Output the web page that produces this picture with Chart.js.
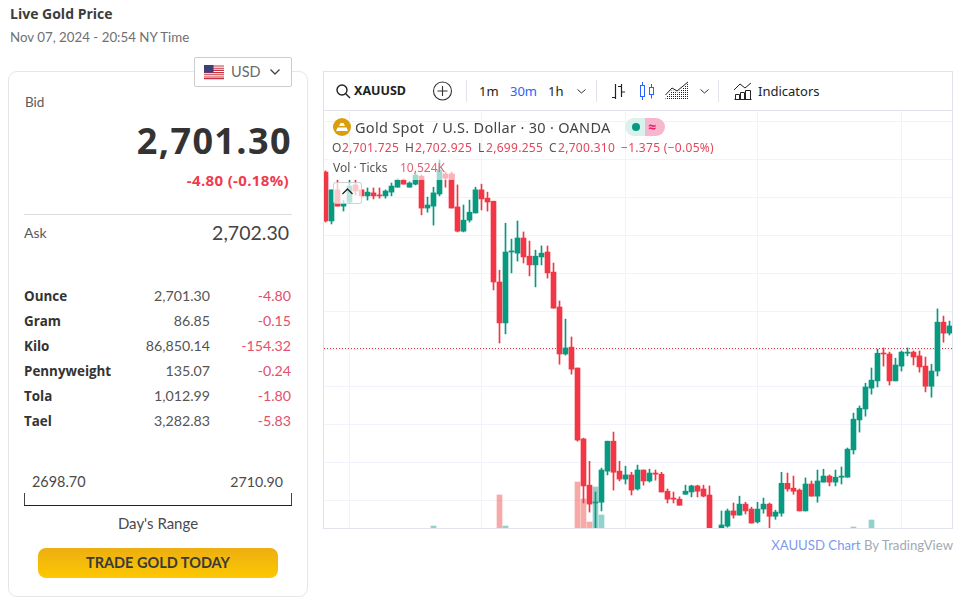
<!DOCTYPE html>
<html>
<head>
<meta charset="utf-8">
<title>Live Gold Price</title>
<script src="https://cdn.jsdelivr.net/npm/chart.js@4"></script>
<style>
html, body { margin: 0; padding: 0; background: #fff; width: 964px; height: 597px; overflow: hidden; }
body { position: relative; font-family: Lato, "Open Sans", sans-serif; color: #3a3a3a; }
.t { position: absolute; line-height: 20px; white-space: nowrap; }
.r { text-align: right; }
.b { font-family: "Open Sans", sans-serif; font-weight: 700; }
.panel { position: absolute; left: 8px; top: 71px; width: 298px; height: 524px; border: 1px solid #e6e6e6; border-radius: 9px; }
.hr { position: absolute; left: 24px; top: 214px; width: 268px; height: 1px; background: #ddd; }
.usd { position: absolute; left: 194px; top: 57px; width: 96px; height: 28px; background: #fff; border: 1px solid #ccc; border-radius: 2px; }
.btn { position: absolute; left: 38px; top: 548px; width: 240px; height: 30px; line-height: 30px; text-align: center; font-weight: 700; font-size: 14.5px; color: #3a3a3a; border-radius: 8px; background: linear-gradient(#edae12, #fdc800); }
.rangeLine { position: absolute; left: 24px; top: 505px; width: 268px; height: 1px; background: #222; }
.rangeTick { position: absolute; top: 493px; width: 1px; height: 12px; background: #444; }
.widget { position: absolute; left: 323px; top: 71px; width: 628px; height: 456px; border: 1px solid #e0e3eb; }
.toolbarLine { position: absolute; left: 324px; top: 110px; width: 628px; height: 1px; background: #e0e3eb; }
.sep { position: absolute; top: 80px; width: 1px; height: 22px; background: #e0e3eb; }
#chartBox { position: absolute; left: 324px; top: 111px; width: 628px; height: 417px; }
.tv { font-family: "Noto Sans", "Open Sans", sans-serif; }
.volBg { position: absolute; left: 329px; top: 158px; width: 125px; height: 22px; background: rgba(255,255,255,.62); }
.collapse { position: absolute; left: 333px; top: 182px; width: 27px; height: 20px; background: rgba(255,255,255,.72); border: 1px solid rgba(190,190,190,.7); border-radius: 3px; }
.pillL { position: absolute; left: 625px; top: 118px; width: 20px; height: 18px; background: #d9f2ee; border-radius: 9px 0 0 9px; }
.pillR { position: absolute; left: 645px; top: 118px; width: 20px; height: 18px; background: #f6b6cd; border-radius: 0 9px 9px 0; }
svg { position: absolute; overflow: visible; }
</style>
</head>
<body>

<div class="t b" style="left:10px;top:4px;font-size:14px;color:#3c3c3c">Live Gold Price</div>
<div class="t" style="left:10px;top:27px;font-size:13.3px;color:#707070">Nov 07, 2024 - 20:54 NY Time</div>

<div class="panel"></div>
<div class="usd"></div>
<svg style="left:204px;top:65px" width="20" height="14" viewBox="0 0 20 14">
  <rect width="20" height="14" fill="#fff"/>
  <path d="M0 1h20M0 3.2h20M0 5.4h20M0 7.6h20M0 9.8h20M0 12h20M0 13.6h20" stroke="#c8323f" stroke-width="1.1"/>
  <rect width="9.5" height="7.6" fill="#3c3f78"/>
</svg>
<div class="t" style="left:231px;top:62px;font-size:14.5px;color:#6a6a6a">USD</div>
<svg style="left:270px;top:69px" width="10" height="6"><path d="M0.5 0.5L5 5L9.5 0.5" fill="none" stroke="#444" stroke-width="1.3"/></svg>

<div class="t" style="left:25px;top:92px;font-size:13.5px;color:#5a5a5a">Bid</div>
<div class="t r b" style="right:672px;top:131px;font-size:36px;letter-spacing:1.4px;color:#333">2,701.30</div>
<div class="t r b" style="right:675px;top:170px;font-size:15px;letter-spacing:.35px;color:#ef3b50">-4.80 (-0.18%)</div>
<div class="hr"></div>
<div class="t" style="left:24px;top:223px;font-size:14px;color:#5a5a5a">Ask</div>
<div class="t r" style="right:675px;top:223px;font-size:19.5px;color:#444">2,702.30</div>

<div id="priceRows"></div>

<div class="t" style="left:32px;top:472px;font-size:14.4px;color:#4a4a4a">2698.70</div>
<div class="t r" style="right:681px;top:472px;font-size:14.2px;color:#4a4a4a">2710.90</div>
<div class="rangeTick" style="left:24px"></div>
<div class="rangeTick" style="left:291px"></div>
<div class="rangeLine"></div>
<div class="t" style="left:24px;width:268px;text-align:center;top:513px;font-size:15px;color:#4a4a4a">Day's Range</div>
<div class="btn">TRADE GOLD TODAY</div>

<div class="widget"></div>
<div class="toolbarLine"></div>
<div id="chartBox"><canvas id="goldChart" width="628" height="417"></canvas></div>

<!-- toolbar -->
<svg style="left:336px;top:84px" width="16" height="16"><circle cx="6" cy="6" r="5" fill="none" stroke="#222" stroke-width="1.4"/><path d="M9.7 9.7L14 14" stroke="#222" stroke-width="1.4"/></svg>
<div class="t tv" style="left:354px;top:81px;font-size:12.5px;font-weight:700;color:#222">XAUUSD</div>
<svg style="left:433px;top:81px" width="20" height="20"><circle cx="9.5" cy="10" r="9" fill="none" stroke="#333" stroke-width="1.1"/><path d="M9.5 5v10M4.5 10h10" stroke="#333" stroke-width="1.1"/></svg>
<div class="sep" style="left:466px"></div>
<div class="t tv" style="left:479px;top:81px;font-size:13px;color:#222">1m</div>
<div class="t tv" style="left:510px;top:81px;font-size:13px;color:#2962ff">30m</div>
<div class="t tv" style="left:548px;top:81px;font-size:13px;color:#222">1h</div>
<svg style="left:577px;top:89px" width="9" height="5"><path d="M0.5 0.5L4.5 4L8.5 0.5" fill="none" stroke="#333" stroke-width="1"/></svg>
<div class="sep" style="left:596px"></div>
<svg style="left:610px;top:83px" width="16" height="17"><path d="M5.5 1v15M2 14.5h3.5M11.5 1v13M11.5 9h3.5M8 3.5h3.5" fill="none" stroke="#222" stroke-width="1.2"/></svg>
<svg style="left:640px;top:82px" width="15" height="18"><rect x="0.5" y="3.5" width="4" height="11" fill="none" stroke="#2962ff"/><path d="M2.5 0v3.5M2.5 14.5v3.5" stroke="#2962ff"/><rect x="9.5" y="5.5" width="4" height="7" fill="none" stroke="#2962ff"/><path d="M11.5 2v3.5M11.5 12.5v4" stroke="#2962ff"/></svg>
<svg style="left:665px;top:82px" width="24" height="18"><defs><pattern id="dots" width="2" height="2" patternUnits="userSpaceOnUse"><rect width="1" height="1" fill="#222"/></pattern></defs><path d="M0.5 16L7 8L12 11L23 1V17H0.5Z" fill="url(#dots)" stroke="none"/><path d="M0.5 13L7 6L12 9L23 0" fill="none" stroke="#222" stroke-width="1"/></svg>
<svg style="left:700px;top:89px" width="9" height="5"><path d="M0.5 0.5L4.5 4L8.5 0.5" fill="none" stroke="#333" stroke-width="1"/></svg>
<div class="sep" style="left:718px"></div>
<svg style="left:734px;top:82px" width="18" height="18"><path d="M0 8L6 2L11 6L17 1" fill="none" stroke="#222"/><path d="M0.5 17.5h17M1.5 17.5v-5h4v5M6.5 17.5v-7h4v7M11.5 17.5v-9h5v9" fill="none" stroke="#222"/></svg>
<div class="t tv" style="left:758px;top:81px;font-size:13px;color:#222">Indicators</div>

<!-- pane legend -->
<svg style="left:333px;top:118px" width="18" height="18"><circle cx="9" cy="9" r="9" fill="#d99e0c"/><path d="M6 8l1.5-3h3L12 8zM3 13l1.5-3.5h9L15 13z" fill="#fff"/></svg>
<div class="t tv" style="left:355px;top:117px;font-size:14.5px;letter-spacing:.3px;color:#444">Gold Spot&nbsp; / U.S. Dollar · 30 · OANDA</div>
<div class="pillL"></div>
<div class="pillR"></div>
<svg style="left:631px;top:122px" width="10" height="10"><circle cx="5" cy="5" r="4" fill="#089981"/></svg>
<div class="t tv" style="left:648px;top:117px;font-size:14px;font-weight:700;color:#e91e63">≈</div>
<div class="t tv" style="left:332px;top:138px;font-size:12px;color:#555">O</div>
<div class="t tv" style="left:342px;top:138px;font-size:12px;letter-spacing:.3px;color:#e4455a">2,701.725</div>
<div class="t tv" style="left:405px;top:138px;font-size:12px;color:#555">H</div>
<div class="t tv" style="left:415px;top:138px;font-size:12px;letter-spacing:.3px;color:#e4455a">2,702.925</div>
<div class="t tv" style="left:478px;top:138px;font-size:12px;color:#555">L</div>
<div class="t tv" style="left:486px;top:138px;font-size:12px;letter-spacing:.3px;color:#e4455a">2,699.255</div>
<div class="t tv" style="left:549px;top:138px;font-size:12px;color:#555">C</div>
<div class="t tv" style="left:558px;top:138px;font-size:12px;letter-spacing:.3px;color:#e4455a">2,700.310</div>
<div class="t tv" style="left:621px;top:138px;font-size:12px;letter-spacing:.3px;color:#e4455a">−1.375 (−0.05%)</div>

<div class="volBg"></div>
<div class="t tv" style="left:333px;top:158px;font-size:12px;color:#555">Vol · Ticks</div>
<div class="t tv" style="left:400px;top:158px;font-size:12px;color:#e4606f">10,524K</div>
<div class="collapse"></div>
<svg style="left:342px;top:188px" width="11" height="7"><path d="M0.5 6L5.5 1L10.5 6" fill="none" stroke="#222" stroke-width="1.3"/></svg>

<div class="t r" style="right:11px;top:535px;font-size:13.2px;color:#a3a9b3"><span style="color:#7d9bf0">XAUUSD Chart</span> By TradingView</div>

<script>
// price table on the left
const units = ["Ounce", "Gram", "Kilo", "Pennyweight", "Tola", "Tael"];
const unitPrices = ["2,701.30", "86.85", "86,850.14", "135.07", "1,012.99", "3,282.83"];
const unitChanges = ["-4.80", "-0.15", "-154.32", "-0.24", "-1.80", "-5.83"];

// 30 minute candles, one entry per bar
const opens = [
  2746.7, 2733.8, 2742.0, 2737.7, 2738.8, 2743.3, 2742.0, 2740.4, 2741.2, 2740.6,
  2740.4, 2741.4, 2742.7, 2744.6, 2742.7, 2743.5, 2745.6, 2737.2, 2737.7, 2740.9,
  2746.2, 2746.2, 2737.5, 2731.1, 2734.0, 2735.9, 2742.0, 2739.8, 2739.0, 2717.7,
  2706.9, 2725.6, 2725.3, 2729.3, 2724.5, 2722.2, 2724.3, 2725.6, 2720.3, 2711.1,
  2698.7, 2700.5, 2695.0, 2676.3, 2664.1, 2659.4, 2659.6, 2667.8, 2675.7, 2667.8,
  2665.7, 2666.8, 2663.1, 2668.1, 2665.2, 2667.3, 2667.0, 2662.5, 2660.7, 2660.4,
  2661.7, 2662.3, 2663.9, 2663.1, 2661.5, 2648.3, 2650.9, 2653.3, 2657.3, 2656.2,
  2659.1, 2657.8, 2654.4, 2657.8, 2659.1, 2655.9, 2656.7, 2664.6, 2663.3, 2662.8,
  2657.3, 2664.4, 2661.2, 2664.9, 2666.5, 2664.9, 2666.2, 2666.2, 2673.4, 2681.3,
  2684.2, 2689.7, 2691.6, 2698.9, 2698.7, 2691.6, 2695.5, 2698.9, 2699.2, 2698.2,
  2695.5, 2690.2, 2694.2, 2707.1, 2704.2
];
const highs = [
  2747.0, 2742.0, 2744.6, 2739.3, 2744.6, 2744.6, 2742.0, 2742.5, 2742.5, 2742.5,
  2742.0, 2743.8, 2744.9, 2744.9, 2744.1, 2746.4, 2745.9, 2740.1, 2742.7, 2749.9,
  2746.7, 2746.7, 2743.3, 2738.0, 2739.3, 2742.7, 2743.5, 2741.4, 2739.0, 2720.8,
  2733.2, 2729.0, 2733.8, 2730.9, 2728.5, 2726.1, 2727.2, 2727.2, 2722.7, 2712.7,
  2707.9, 2703.2, 2695.0, 2676.5, 2670.4, 2662.3, 2668.6, 2675.7, 2678.1, 2670.4,
  2669.1, 2667.5, 2669.4, 2668.1, 2668.3, 2668.1, 2667.5, 2663.1, 2662.3, 2661.0,
  2664.1, 2664.1, 2664.1, 2664.1, 2663.9, 2651.7, 2657.3, 2657.8, 2659.4, 2661.2,
  2659.6, 2658.3, 2659.6, 2660.7, 2659.4, 2657.5, 2667.5, 2667.3, 2666.5, 2663.1,
  2666.0, 2665.2, 2668.1, 2668.3, 2666.8, 2668.1, 2668.9, 2673.9, 2683.1, 2685.0,
  2691.0, 2695.0, 2700.0, 2700.3, 2699.2, 2697.6, 2699.5, 2700.3, 2699.5, 2699.5,
  2697.9, 2696.0, 2710.6, 2708.7, 2707.4
];
const lows = [
  2733.5, 2733.0, 2737.7, 2736.4, 2738.5, 2740.6, 2740.4, 2739.3, 2739.6, 2739.8,
  2739.8, 2740.4, 2742.7, 2743.5, 2742.7, 2743.3, 2735.4, 2736.1, 2732.7, 2740.4,
  2742.7, 2737.2, 2730.9, 2730.9, 2733.5, 2735.9, 2736.7, 2736.4, 2715.6, 2701.6,
  2704.0, 2720.1, 2723.2, 2722.7, 2719.3, 2716.4, 2722.2, 2718.7, 2710.8, 2696.0,
  2698.4, 2693.4, 2675.7, 2659.4, 2657.0, 2652.2, 2657.3, 2666.8, 2662.8, 2665.2,
  2664.4, 2661.5, 2662.8, 2664.1, 2664.9, 2665.4, 2662.3, 2659.4, 2659.4, 2658.8,
  2661.7, 2661.0, 2661.0, 2661.0, 2648.3, 2647.5, 2649.6, 2653.0, 2655.4, 2656.2,
  2656.5, 2654.1, 2654.1, 2656.7, 2651.7, 2655.1, 2655.9, 2662.5, 2661.7, 2657.3,
  2657.3, 2661.2, 2659.6, 2664.9, 2663.9, 2663.9, 2664.4, 2666.2, 2672.3, 2678.1,
  2682.3, 2688.1, 2690.0, 2695.5, 2690.5, 2691.6, 2694.2, 2698.2, 2695.8, 2693.9,
  2688.7, 2687.3, 2692.9, 2701.8, 2703.7
];
const closes = [
  2733.8, 2742.0, 2737.7, 2738.5, 2743.0, 2741.7, 2740.4, 2741.4, 2740.4, 2740.4,
  2741.7, 2743.0, 2744.6, 2743.5, 2743.8, 2745.9, 2737.2, 2738.0, 2741.2, 2747.2,
  2745.1, 2737.2, 2731.1, 2734.0, 2736.1, 2742.0, 2739.6, 2738.8, 2717.7, 2706.9,
  2725.6, 2725.9, 2729.3, 2724.3, 2722.2, 2724.5, 2725.3, 2720.1, 2710.8, 2698.7,
  2700.3, 2694.7, 2676.0, 2663.9, 2659.1, 2659.6, 2668.1, 2675.7, 2667.5, 2665.7,
  2666.8, 2662.8, 2668.1, 2665.2, 2667.3, 2667.0, 2662.3, 2660.4, 2660.4, 2658.8,
  2662.5, 2663.9, 2662.5, 2661.2, 2649.6, 2650.9, 2653.6, 2657.3, 2656.2, 2659.1,
  2657.3, 2654.1, 2657.8, 2659.1, 2655.9, 2657.0, 2664.6, 2663.1, 2662.5, 2657.3,
  2664.4, 2661.2, 2665.2, 2666.5, 2664.9, 2666.2, 2666.5, 2673.6, 2681.5, 2684.4,
  2690.0, 2691.8, 2698.9, 2698.7, 2691.6, 2695.8, 2699.2, 2699.2, 2697.9, 2695.3,
  2690.2, 2694.2, 2707.1, 2704.2, 2706.1
];

// only these volume bars reach above the cropped bottom edge (ticks, thousands)
const volumeBars = [18, 29, 30, 42, 43, 44, 45, 46, 88, 91];
const volumeTicks = [12, 27.5, 12, 34, 25.5, 14, 31.5, 17.5, 11.5, 15];

const gridBars = [4, 26, 50, 72, 96];
const gridPrices = [2660, 2670, 2680, 2690, 2700, 2710, 2720, 2730, 2740, 2750, 2760];
const lastPrice = 2700.15;

const UP = "#089981";
const DOWN = "#f23645";
const UP_VOL = "rgba(38,166,154,0.5)";
const DOWN_VOL = "rgba(239,83,80,0.5)";

// fill the price rows
const rowsBox = document.getElementById("priceRows");
units.forEach((name, i) => {
    const top = 286 + i * 25;
    rowsBox.innerHTML += `
        <div class="t b" style="left:24px;top:${top}px;font-size:13.4px;color:#333">${name}</div>
        <div class="t r" style="right:754px;top:${top}px;font-size:14.2px;color:#555">${unitPrices[i]}</div>
        <div class="t r" style="right:673px;top:${top}px;font-size:14.2px;color:#e4506a">${unitChanges[i]}</div>`;
});

const barColor = i => (closes[i] >= opens[i] ? UP : DOWN);

new Chart(document.getElementById("goldChart"), {
    type: "bar",
    data: {
        datasets: [
            {
                label: "body",
                order: 1,
                grouped: false,
                barThickness: 5,
                minBarLength: 1,
                data: opens.map((o, i) => ({ x: i, y: [o, closes[i]] })),
                backgroundColor: opens.map((o, i) => barColor(i))
            },
            {
                label: "wick",
                order: 2,
                grouped: false,
                barThickness: 1,
                data: opens.map((o, i) => ({ x: i, y: [lows[i], highs[i]] })),
                backgroundColor: opens.map((o, i) => barColor(i))
            },
            {
                label: "last price",
                type: "line",
                order: 3,
                data: [{ x: -0.25, y: lastPrice }, { x: 104.42, y: lastPrice }],
                borderColor: "#d9303f",
                borderWidth: 1,
                borderDash: [1, 2],
                pointRadius: 0
            },
            {
                label: "volume",
                order: 4,
                yAxisID: "yVol",
                grouped: false,
                barThickness: 5,
                data: volumeBars.map((b, i) => ({ x: b, y: volumeTicks[i] })),
                backgroundColor: volumeBars.map(b => (closes[b] >= opens[b] ? UP_VOL : DOWN_VOL))
            }
        ]
    },
    options: {
        responsive: false,
        animation: false,
        layout: { padding: 0 },
        plugins: { legend: { display: false }, tooltip: { enabled: false } },
        scales: {
            x: {
                type: "linear",
                offset: false,
                min: -0.25,
                max: 104.42,
                border: { display: false },
                grid: { color: "#f0f3fa", drawTicks: false, offset: false },
                ticks: { display: false },
                afterBuildTicks: axis => {
                    axis.ticks = gridBars.map(v => ({ value: v }));
                }
            },
            y: {
                min: 2652.8,
                max: 2762.8,
                border: { display: false },
                grid: { color: "#f0f3fa", drawTicks: false },
                ticks: { display: false },
                afterBuildTicks: axis => {
                    axis.ticks = gridPrices.map(v => ({ value: v }));
                }
            },
            yVol: {
                position: "right",
                display: false,
                min: 11,
                max: 219.5
            }
        }
    }
});
</script>
</body>
</html>
